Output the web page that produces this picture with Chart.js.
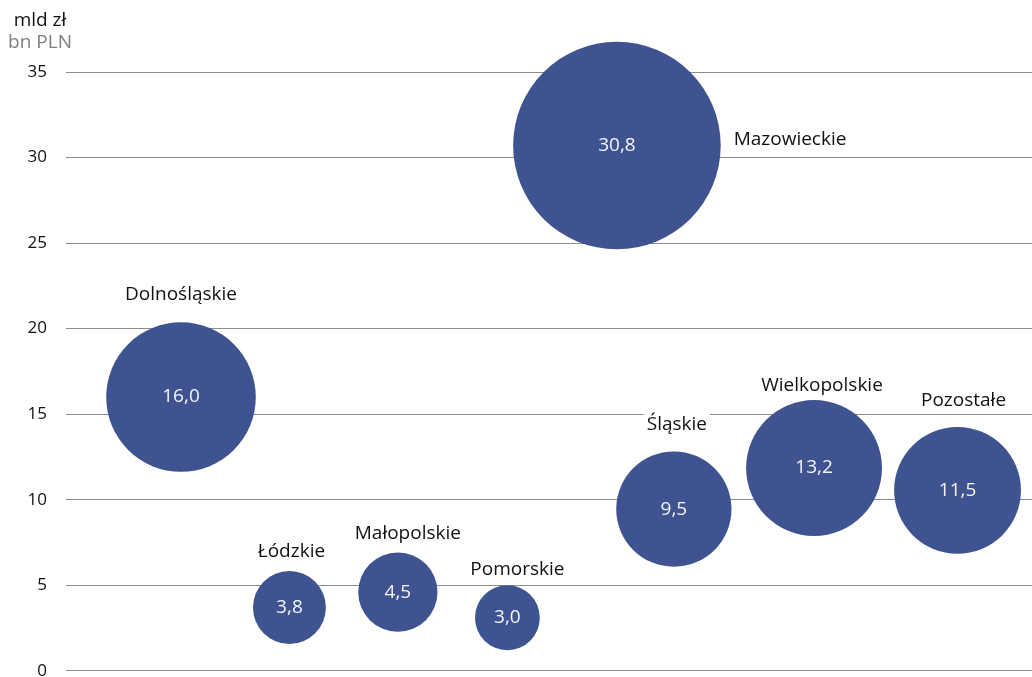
<!DOCTYPE html>
<html>
<head>
<meta charset="utf-8">
<script src="https://cdn.jsdelivr.net/npm/chart.js@4.4.1/dist/chart.umd.min.js"></script>
<style>
  html, body { margin: 0; padding: 0; background: #fff; overflow: hidden; }
  #wrap { width: 1032px; height: 700px; }
</style>
</head>
<body>
<div id="wrap"><canvas id="chart"></canvas></div>
<script>
// regions, horizontal slot, vertical position and bubble value (mld zł)
const regions = ['Dolnośląskie', 'Łódzkie', 'Małopolskie', 'Pomorskie', 'Mazowieckie', 'Śląskie', 'Wielkopolskie', 'Pozostałe'];
const slots = [1.05, 2.04, 3.03, 4.03, 5.03, 5.55, 6.83, 8.14];
const levels = [16.0, 3.7, 4.6, 3.1, 30.7, 9.45, 11.85, 10.55];
const values = [16.0, 3.8, 4.5, 3.0, 30.8, 9.5, 13.2, 11.5];
const yTicks = [0, 5, 10, 15, 20, 25, 30, 35];

// where each region name goes relative to its bubble
const namePlace = ['top', 'top', 'top', 'top', 'right', 'top', 'top', 'top'];
const nameShift = [[0, -28], [2, -19], [10, -19], [10, -16], [13, -6], [3, -27], [8, -15], [6, -26]];

const FONT = '"Open Sans", "Noto Sans", sans-serif';
const BLUE = '#3e538f';
const SCALE_R = 18.7;

const points = regions.map((name, i) => ({
  x: slots[i],
  y: levels[i],
  r: SCALE_R * Math.sqrt(values[i])
}));

const fmt = v => v.toFixed(1).replace('.', ',');

const labelsPlugin = {
  id: 'bubbleLabels',
  afterDatasetsDraw(chart) {
    const ctx = chart.ctx;
    const meta = chart.getDatasetMeta(0);
    ctx.save();
    ctx.font = '19px ' + FONT;
    ctx.textBaseline = 'middle';
    meta.data.forEach((el, i) => {
      const r = points[i].r;
      // value inside the bubble
      ctx.fillStyle = '#f4f4f8';
      ctx.textAlign = 'center';
      ctx.fillText(fmt(values[i]), el.x, el.y);

      // region name with a white box behind it
      let tx, ty;
      const w = ctx.measureText(regions[i]).width;
      if (namePlace[i] === 'right') {
        tx = el.x + r + nameShift[i][0];
        ty = el.y + nameShift[i][1];
        ctx.textAlign = 'left';
        ctx.fillStyle = '#fff';
        ctx.fillRect(tx - 3, ty - 12, w + 6, 24);
      } else {
        tx = el.x + nameShift[i][0];
        ty = el.y - r + nameShift[i][1];
        ctx.textAlign = 'center';
        ctx.fillStyle = '#fff';
        ctx.fillRect(tx - w / 2 - 3, ty - 12, w + 6, 24);
      }
      ctx.fillStyle = '#111';
      ctx.fillText(regions[i], tx, ty);
    });

    // unit captions over the value axis
    ctx.textAlign = 'center';
    ctx.fillStyle = '#111';
    ctx.fillText('mld zł', 40, 21);
    ctx.fillStyle = '#7f7f7f';
    ctx.fillText('bn PLN', 40, 43);
    ctx.restore();
  }
};

new Chart(document.getElementById('chart'), {
  type: 'bubble',
  data: {
    datasets: [{
      data: points,
      backgroundColor: BLUE,
      borderWidth: 0,
      hoverRadius: 0,
      clip: false
    }]
  },
  options: {
    responsive: true,
    maintainAspectRatio: false,
    animation: false,
    events: [],
    layout: { autoPadding: false, padding: { left: 0, right: 0, top: 72, bottom: 10 } },
    plugins: {
      legend: { display: false },
      tooltip: { enabled: false }
    },
    scales: {
      x: {
        type: 'linear',
        display: false,
        min: 0,
        max: 8.82
      },
      y: {
        min: 0,
        max: 35,
        afterFit(scale) { scale.width = 66; },
        afterBuildTicks(scale) { scale.ticks = yTicks.map(v => ({ value: v })); },
        border: { display: false },
        grid: { color: '#8c8c8c', lineWidth: 1, drawTicks: false },
        ticks: {
          padding: 19,
          color: '#111',
          font: { family: FONT, size: 17 }
        }
      }
    }
  },
  plugins: [labelsPlugin]
});
</script>
</body>
</html>
